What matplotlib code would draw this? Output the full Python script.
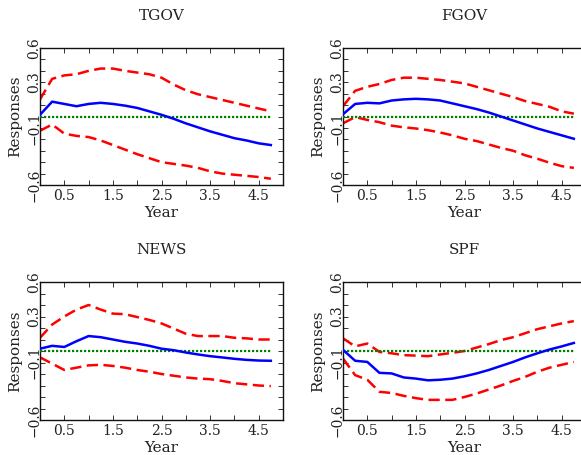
import matplotlib
matplotlib.use('Agg')
import matplotlib.pyplot as plt
from matplotlib.ticker import MultipleLocator

plt.rcParams['font.family'] = 'DejaVu Serif'

# quarters after the shock (years)
YEARS = [0.0, 0.25, 0.5, 0.75, 1.0, 1.25, 1.5, 1.75, 2.0, 2.25,
         2.5, 2.75, 3.0, 3.25, 3.5, 3.75, 4.0, 4.25, 4.5, 4.75]

PANELS = ['TGOV', 'FGOV', 'NEWS', 'SPF']

# median responses
TGOV_MED = [0.015, 0.13, 0.11, 0.09, 0.11, 0.12, 0.11, 0.095, 0.075, 0.045,
            0.015, -0.02, -0.06, -0.095, -0.13, -0.16, -0.19, -0.21, -0.235, -0.25]
FGOV_MED = [0.02, 0.11, 0.12, 0.115, 0.14, 0.15, 0.155, 0.15, 0.14, 0.115,
            0.09, 0.065, 0.035, 0.0, -0.035, -0.07, -0.105, -0.135, -0.165, -0.195]
NEWS_MED = [0.02, 0.045, 0.035, 0.085, 0.13, 0.12, 0.10, 0.08, 0.065, 0.045,
            0.02, 0.007, -0.013, -0.03, -0.045, -0.056, -0.068, -0.077, -0.083, -0.085]
SPF_MED = [0.01, -0.085, -0.095, -0.19, -0.195, -0.23, -0.24, -0.255, -0.25, -0.24,
           -0.22, -0.195, -0.165, -0.13, -0.095, -0.055, -0.02, 0.013, 0.04, 0.07]

# upper bands
TGOV_UB = [0.15, 0.33, 0.36, 0.37, 0.40, 0.42, 0.42, 0.40, 0.385, 0.37,
           0.34, 0.28, 0.23, 0.195, 0.17, 0.145, 0.12, 0.095, 0.07, 0.045]
FGOV_UB = [0.09, 0.225, 0.26, 0.285, 0.32, 0.34, 0.34, 0.33, 0.32, 0.305,
           0.29, 0.26, 0.23, 0.20, 0.17, 0.135, 0.11, 0.085, 0.045, 0.025]
NEWS_UB = [0.115, 0.23, 0.30, 0.36, 0.40, 0.36, 0.325, 0.32, 0.295, 0.27,
           0.24, 0.195, 0.15, 0.13, 0.13, 0.13, 0.115, 0.11, 0.10, 0.10]
SPF_UB = [0.11, 0.04, 0.065, -0.008, -0.02, -0.036, -0.04, -0.045, -0.03, -0.016,
          0.0, 0.03, 0.06, 0.095, 0.12, 0.155, 0.19, 0.215, 0.24, 0.26]

# lower bands
TGOV_LB = [-0.125, -0.07, -0.15, -0.17, -0.18, -0.21, -0.25, -0.29, -0.33, -0.365,
           -0.40, -0.415, -0.43, -0.45, -0.48, -0.50, -0.51, -0.52, -0.53, -0.545]
FGOV_LB = [-0.06, -0.005, -0.03, -0.05, -0.08, -0.095, -0.105, -0.12, -0.14, -0.165,
           -0.195, -0.215, -0.245, -0.275, -0.30, -0.34, -0.37, -0.405, -0.435, -0.45]
NEWS_LB = [-0.055, -0.11, -0.165, -0.145, -0.125, -0.12, -0.13, -0.145, -0.165, -0.18,
           -0.20, -0.215, -0.23, -0.24, -0.245, -0.26, -0.28, -0.29, -0.30, -0.305]
SPF_LB = [-0.065, -0.21, -0.25, -0.355, -0.365, -0.39, -0.41, -0.425, -0.425, -0.425,
          -0.40, -0.37, -0.335, -0.30, -0.26, -0.225, -0.18, -0.145, -0.12, -0.095]

MEDIANS = [TGOV_MED, FGOV_MED, NEWS_MED, SPF_MED]
UPPERS = [TGOV_UB, FGOV_UB, NEWS_UB, SPF_UB]
LOWERS = [TGOV_LB, FGOV_LB, NEWS_LB, SPF_LB]

Y_TICKS = [-0.6, -0.1, 0.3, 0.6]
X_TICKS = [0.5, 1.5, 2.5, 3.5, 4.5]

# axes boxes in figure fractions [left, bottom, width, height]
W, H = 581, 455
boxes = [[40 / W, (H - 185) / H, 243 / W, 137 / H],
         [343 / W, (H - 185) / H, 243 / W, 137 / H],
         [40 / W, (H - 420) / H, 243 / W, 138 / H],
         [343 / W, (H - 420) / H, 243 / W, 138 / H]]

fig = plt.figure(figsize=(W / 100, H / 100), dpi=100)

for i, name in enumerate(PANELS):
    ax = fig.add_axes(boxes[i])
    zeros = [0.0 for _ in YEARS]
    ax.plot(YEARS, UPPERS[i], color='#ff0000', lw=1.8, dashes=(4.5, 2.2), zorder=2)
    ax.plot(YEARS, LOWERS[i], color='#ff0000', lw=1.8, dashes=(4.5, 2.2), zorder=2)
    ax.plot(YEARS, zeros, color='#008000', lw=1.6, dashes=(1, 0.8), zorder=3)
    ax.plot(YEARS, MEDIANS[i], color='#0000ff', lw=1.8, zorder=4)

    ax.set_xlim(0, 5)
    ax.set_ylim(-0.6, 0.6)

    # labelled ticks are major, the unlabelled ones minor
    ax.set_xticks(X_TICKS)
    ax.set_xticklabels([str(x) for x in X_TICKS])
    ax.xaxis.set_minor_locator(MultipleLocator(0.5))
    ax.set_yticks(Y_TICKS)
    ax.set_yticklabels([('\u2212' if v < 0 else '') + '%.1f' % abs(v) for v in Y_TICKS],
                       rotation=90, va='center')
    ax.yaxis.set_minor_locator(MultipleLocator(0.1))

    ax.tick_params(which='both', direction='in', length=3.5, width=0.7,
                   top=True, right=True, color='#333333')
    ax.tick_params(which='major', labelsize=10, labelcolor='#222222')
    ax.tick_params(axis='y', which='major', pad=-1)
    ax.tick_params(axis='x', which='major', pad=3)
    for s in ax.spines.values():
        s.set_linewidth(1.0)
        s.set_color('#111111')

    ax.set_title(name, fontsize=11, pad=20, color='#222222')
    ax.set_xlabel('Year', fontsize=11, labelpad=2, color='#222222')
    ax.set_ylabel('Responses', fontsize=11, labelpad=4, color='#222222')

fig.savefig('out.png', dpi=100)
